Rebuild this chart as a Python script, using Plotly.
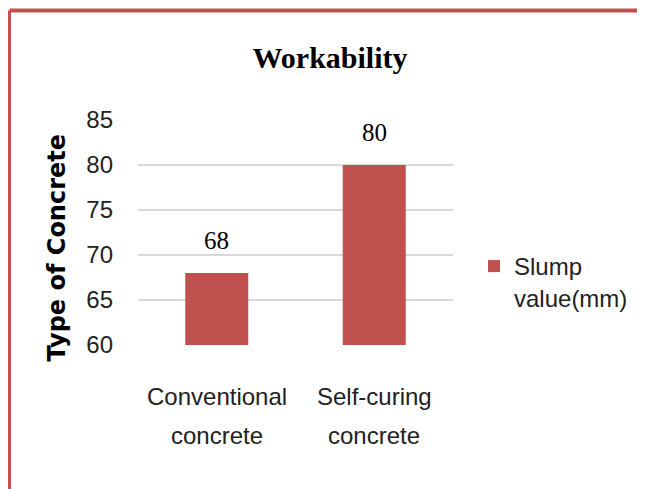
import plotly.graph_objects as go

categories = ["Conventional concrete", "Self-curing concrete"]
category_lines = [["Conventional", "concrete"], ["Self-curing", "concrete"]]
slump_values = [68, 80]
series_name = "Slump<br>value(mm)"
y_ticks = [60, 65, 70, 75, 80, 85]

bar_color = "#C0504D"
sans = "Liberation Sans, Arial, sans-serif"
serif = "Liberation Serif, Times New Roman, serif"

# page body adds an 8px margin, so layout positions are shifted back by that
OFF = 8
W, H = 645 - OFF, 489 - OFF
L, T = 138 - OFF, 120 - OFF
PW, PH = 315, 225

fig = go.Figure()

fig.add_trace(go.Bar(
    x=categories,
    y=slump_values,
    name=series_name,
    marker=dict(color=bar_color, line=dict(width=0)),
    width=0.4,
    showlegend=True,
    hoverinfo="none",
))

# value labels above the bars
for cat, val in zip(categories, slump_values):
    fig.add_annotation(
        x=cat, y=val, text=str(val), showarrow=False,
        yanchor="bottom", yshift=17,
        font=dict(family=serif, size=25, color="black"),
    )

# category labels (two lines, wide line spacing)
for cat, lines in zip(categories, category_lines):
    for i, line in enumerate(lines):
        fig.add_annotation(
            x=cat, xref="x", y=0, yref="paper", text=line, showarrow=False,
            yanchor="middle", yshift=-51 - 39 * i,
            font=dict(family=sans, size=24, color="#222"),
        )

# y axis title, placed a bit below the plot's middle as in the original
fig.add_annotation(
    x=(56 - OFF - L) / PW, y=(T + PH - (247.5 - OFF)) / PH,
    xref="paper", yref="paper", text="<b>Type of Concrete</b>",
    textangle=-90, showarrow=False, xanchor="center", yanchor="middle",
    font=dict(family="DejaVu Sans", size=24, color="black"),
)

# red frame (left and top edges)
left_x = (1.5 - L) / PW
top_y = (T + PH - 2.5) / PH
fig.add_shape(type="line", xref="paper", yref="paper",
              x0=left_x, x1=left_x, y0=-1, y1=top_y,
              line=dict(color=bar_color, width=3))
fig.add_shape(type="line", xref="paper", yref="paper",
              x0=left_x, x1=1.8, y0=top_y, y1=top_y,
              line=dict(color=bar_color, width=4))

fig.update_layout(
    width=W, height=H,
    margin=dict(l=L, r=W - L - PW, t=T, b=H - T - PH, autoexpand=False),
    paper_bgcolor="white",
    plot_bgcolor="white",
    title=dict(
        text="<b>Workability</b>",
        font=dict(family=serif, size=30, color="black"),
        x=(330 - OFF) / W, xanchor="center",
        y=1 - (57 - OFF) / H, yanchor="middle", yref="container",
    ),
    xaxis=dict(
        showgrid=False, showline=False, ticks="", showticklabels=False,
        automargin=False,
    ),
    yaxis=dict(
        range=[60, 85], tickvals=y_ticks,
        showgrid=True, gridcolor="#D9D9D9", gridwidth=1.5,
        zeroline=False, showline=False, ticks="",
        ticklabelstandoff=24, automargin=False,
        tickfont=dict(family=sans, size=24, color="#222"),
    ),
    legend=dict(
        xref="container", yref="container",
        x=466 / W, y=1 - 236 / H, xanchor="left", yanchor="top",
        valign="top", itemwidth=30,
        font=dict(family=sans, size=24, color="#222"),
        bgcolor="rgba(0,0,0,0)",
    ),
    showlegend=True,
)

fig.write_html("out.html")
